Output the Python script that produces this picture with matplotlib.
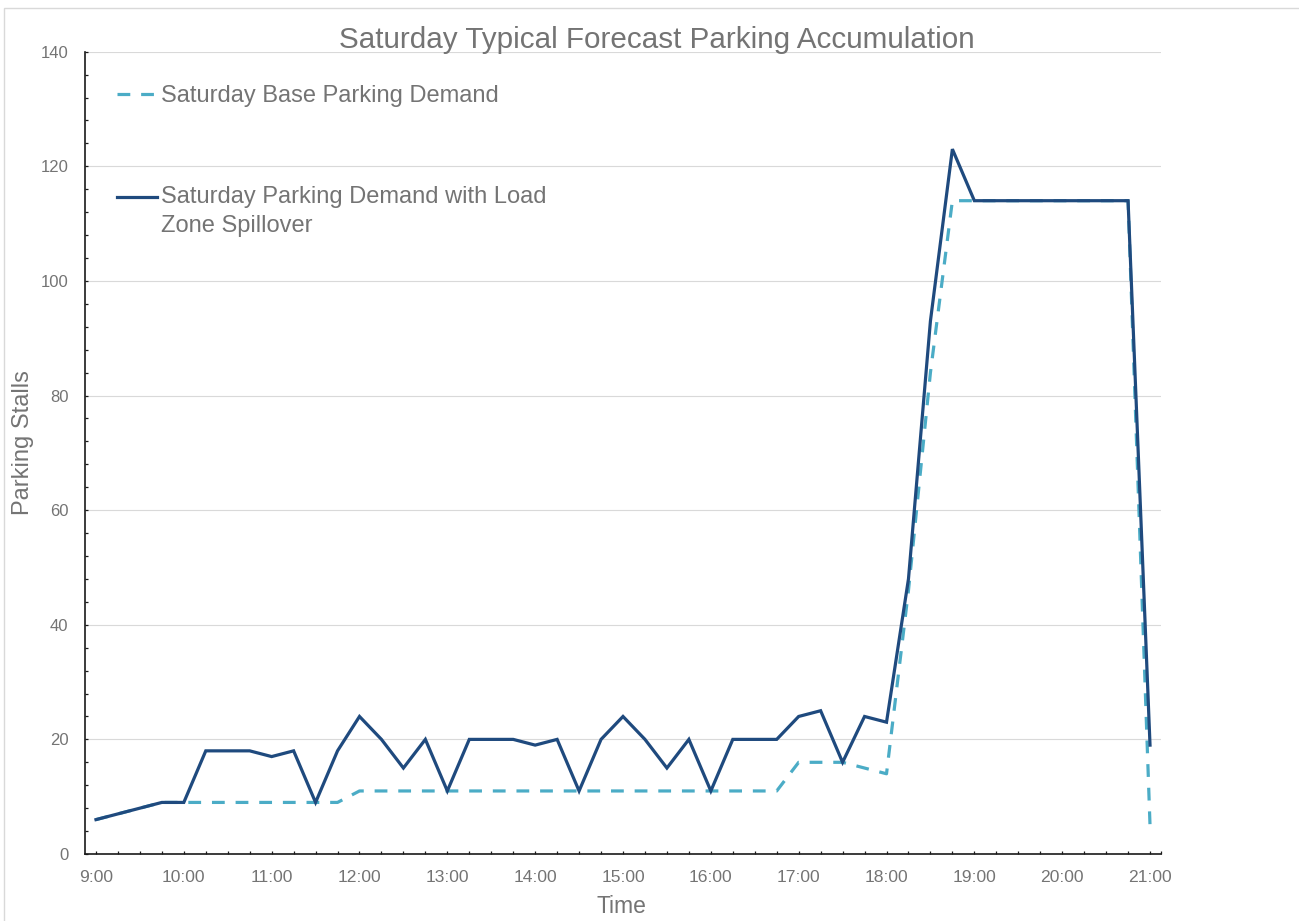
import matplotlib
matplotlib.use("Agg")
import matplotlib.pyplot as plt
from matplotlib.lines import Line2D
from matplotlib.patches import Rectangle
from matplotlib.ticker import FixedLocator, MultipleLocator

# Quarter-hour observations, 9:00 through 21:00
hour_labels = ["9:00", "10:00", "11:00", "12:00", "13:00", "14:00", "15:00",
               "16:00", "17:00", "18:00", "19:00", "20:00", "21:00"]

base_demand = [6, 7, 8, 9,
               9, 9, 9, 9,
               9, 9, 9, 9,
               11, 11, 11, 11,
               11, 11, 11, 11,
               11, 11, 11, 11,
               11, 11, 11, 11,
               11, 11, 11, 11,
               16, 16, 16, 15,
               14, 46, 84, 114,
               114, 114, 114, 114,
               114, 114, 114, 114,
               5]

spillover_demand = [6, 7, 8, 9,
                    9, 18, 18, 18,
                    17, 18, 9, 18,
                    24, 20, 15, 20,
                    11, 20, 20, 20,
                    19, 20, 11, 20,
                    24, 20, 15, 20,
                    11, 20, 20, 20,
                    24, 25, 16, 24,
                    23, 48, 93, 123,
                    114, 114, 114, 114,
                    114, 114, 114, 114,
                    19]

chart_title = "Saturday Typical Forecast Parking Accumulation"
base_label = "Saturday Base Parking Demand"
spill_label = ["Saturday Parking Demand with Load", "Zone Spillover"]
x_title = "Time"
y_title = "Parking Stalls"

W, H = 1299, 921
FONT = "Liberation Sans"
GRAY = "#747474"
DARK_BLUE = "#1F4A7E"
LIGHT_BLUE = "#4BACC6"
LW = 2.3
DASH = (4.0, 3.4)


def fx(px):
    return px / W


def fy(py):
    return 1 - py / H


plt.rcParams["font.family"] = [FONT, "DejaVu Sans"]

fig = plt.figure(figsize=(W / 100, H / 100), dpi=100)
fig.patch.set_facecolor("white")

# Light outer frame of the chart area
fig.add_artist(Rectangle((fx(4), -0.05), 1.2, fy(8.5) + 0.05, fill=False,
                         ec="#d9d9d9", lw=1.0, transform=fig.transFigure))

ax = fig.add_axes([fx(85), fy(854), fx(1161) - fx(85), fy(51.7) - fy(854)])

x = list(range(len(base_demand)))
ax.plot(x, base_demand, color=LIGHT_BLUE, lw=LW, dashes=DASH,
        dash_capstyle="butt", zorder=3)
ax.plot(x, spillover_demand, color=DARK_BLUE, lw=LW,
        solid_joinstyle="miter", zorder=4)

ax.set_xlim(-0.5, len(x) - 0.5)
ax.set_ylim(0, 140)

# Axes styling
for side in ("top", "right"):
    ax.spines[side].set_visible(False)
for side in ("left", "bottom"):
    ax.spines[side].set_linewidth(1.2)
    ax.spines[side].set_color("#1a1a1a")

major_x = list(range(0, len(x), 4))
ax.xaxis.set_major_locator(FixedLocator(major_x))
ax.xaxis.set_minor_locator(FixedLocator(list(range(len(x))) + [len(x) - 0.5]))
ax.set_xticklabels(hour_labels)

ax.yaxis.set_major_locator(MultipleLocator(20))
ax.yaxis.set_minor_locator(MultipleLocator(4))

ax.tick_params(axis="both", which="both", direction="in", length=2.3,
               width=0.9, color="#1a1a1a", labelcolor=GRAY)
ax.tick_params(axis="x", which="major", pad=11.5, labelsize=12.6)
ax.tick_params(axis="y", which="major", pad=12, labelsize=12)

ax.yaxis.grid(True, which="major", color="#d9d9d9", lw=0.8)
ax.set_axisbelow(True)

# Titles
fig.text(fx(657), fy(48), chart_title, ha="center", va="baseline",
         fontsize=21.3, color=GRAY)
fig.text(fx(621.7), fy(912.7), x_title, ha="center", va="baseline",
         fontsize=16.5, color=GRAY)
fig.text(fx(22.5), fy(443), y_title, ha="center", va="center",
         rotation=90, fontsize=17, color=GRAY)

# Legend entries
fig.add_artist(Line2D([fx(117), fx(154)], [fy(94.3), fy(94.3)],
                      transform=fig.transFigure, color=LIGHT_BLUE, lw=LW,
                      dashes=DASH, dash_capstyle="butt"))
fig.text(fx(161), fy(102), base_label, ha="left", va="baseline",
         fontsize=17, color=GRAY)

fig.add_artist(Line2D([fx(117), fx(157)], [fy(196.7), fy(196.7)],
                      transform=fig.transFigure, color=DARK_BLUE, lw=LW))
fig.text(fx(161), fy(203), spill_label[0], ha="left", va="baseline",
         fontsize=17, color=GRAY)
fig.text(fx(161), fy(231.7), spill_label[1], ha="left", va="baseline",
         fontsize=17, color=GRAY)

fig.savefig("out.png", dpi=100, facecolor="white")
